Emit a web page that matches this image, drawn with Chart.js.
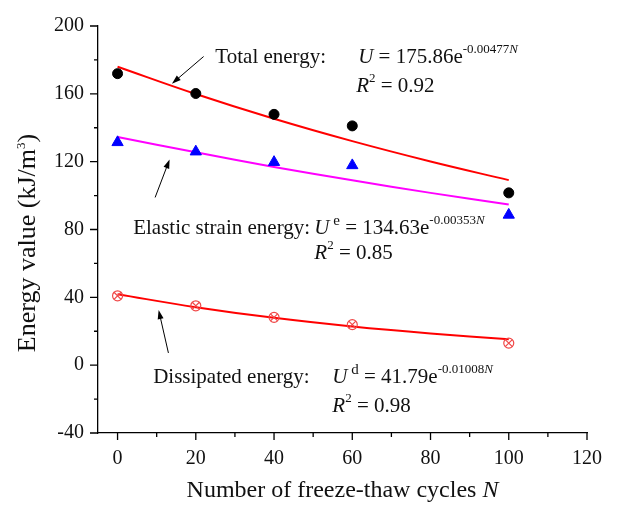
<!DOCTYPE html>
<html>
<head>
<meta charset="utf-8">
<script src="https://cdn.jsdelivr.net/npm/chart.js@4"></script>
<style>
  html, body { margin: 0; padding: 0; background: #fff; }
</style>
</head>
<body>
<canvas id="chart" width="636" height="509"></canvas>
<script>
const N_OBS = [0, 20, 40, 60, 100];
const TOTAL = [171.9, 160.2, 147.9, 141.1, 101.6];
const ELASTIC = [131.4, 125.9, 119.7, 117.8, 88.6];
const DISSIPATED = [40.9, 35.0, 28.2, 23.9, 13.0];

// fitted curves
const N_FIT = [0, 20, 40, 60, 80, 100];
const TOTAL_FIT = [176.0, 159.9, 145.3, 132.1, 120.1, 109.1];
const ELASTIC_FIT = [134.6, 125.5, 116.9, 109.0, 101.6, 94.7];
const DISSIPATED_FIT = [41.8, 34.2, 27.9, 22.8, 18.7, 15.3];

const X_TICKS = [0, 20, 40, 60, 80, 100, 120];
const Y_TICKS = [-40, 0, 40, 80, 120, 160, 200];

const SERIF = "'Liberation Serif', 'Times New Roman', serif";

const pts = (xs, ys) => xs.map((x, i) => ({ x, y: ys[i] }));

// annotation text, anchored in data units
const notes = [
  { x: 25.0, y: 178.1, parts: [{ t: 'Total energy:' }] },
  { x: 61.5, y: 178.1, parts: [{ t: 'U', it: 1 }, { t: ' = 175.86e' }, { t: '-0.00477', sup: 1 }, { t: 'N', sup: 1, it: 1 }] },
  { x: 61.0, y: 161.2, parts: [{ t: 'R', it: 1 }, { t: '2', sup: 1 }, { t: ' = 0.92' }] },
  { x: 4.0, y: 77.1, parts: [{ t: 'Elastic strain energy:' }] },
  { x: 50.3, y: 77.1, parts: [{ t: 'U', it: 1 }, { t: ' e', sup: 2 }, { t: ' = 134.63e' }, { t: '-0.00353', sup: 1 }, { t: 'N', sup: 1, it: 1 }] },
  { x: 50.3, y: 62.5, parts: [{ t: 'R', it: 1 }, { t: '2', sup: 1 }, { t: ' = 0.85' }] },
  { x: 9.1, y: -10.5, parts: [{ t: 'Dissipated energy:' }] },
  { x: 54.9, y: -10.5, parts: [{ t: 'U', it: 1 }, { t: ' d', sup: 2 }, { t: ' = 41.79e' }, { t: '-0.01008', sup: 1 }, { t: 'N', sup: 1, it: 1 }] },
  { x: 54.9, y: -27.4, parts: [{ t: 'R', it: 1 }, { t: '2', sup: 1 }, { t: ' = 0.98' }] }
];

// arrows: tail -> tip, data units
const arrows = [
  { from: [22.0, 182.0], to: [13.9, 166.0] },
  { from: [9.6, 98.9], to: [13.3, 121.3] },
  { from: [13.0, 7.2], to: [10.5, 32.5] }
];

function fontFor(p, base) {
  const size = p.sup === 1 ? 13 : p.sup === 2 ? 15 : base;
  return (p.it ? 'italic ' : '') + size + 'px ' + SERIF;
}
function richWidth(ctx, parts, base) {
  let w = 0;
  parts.forEach(p => { ctx.font = fontFor(p, base); w += ctx.measureText(p.t).width; });
  return w;
}
function drawRich(ctx, x, y, parts, base) {
  ctx.textAlign = 'left';
  ctx.textBaseline = 'alphabetic';
  parts.forEach(p => {
    ctx.font = fontFor(p, base);
    const dy = p.sup === 1 ? -10 : p.sup === 2 ? -9 : 0;
    ctx.fillText(p.t, x, y + dy);
    x += ctx.measureText(p.t).width;
  });
}

const decor = {
  id: 'decor',
  afterDraw(chart) {
    const { ctx, chartArea: a, scales: { x, y } } = chart;
    ctx.save();
    ctx.strokeStyle = '#000';
    ctx.fillStyle = '#000';
    ctx.lineWidth = 1.3;

    // major and minor tick marks, pointing outward
    ctx.beginPath();
    for (let v = -40; v <= 200; v += 20) {
      const py = y.getPixelForValue(v);
      const len = v % 40 === 0 ? 8 : 4;
      ctx.moveTo(a.left - len, py);
      ctx.lineTo(a.left, py);
    }
    for (let v = 0; v <= 120; v += 10) {
      const px = x.getPixelForValue(v);
      const len = v % 20 === 0 ? 7 : 4;
      ctx.moveTo(px, a.bottom);
      ctx.lineTo(px, a.bottom + len);
    }
    ctx.stroke();

    // arrows
    ctx.lineWidth = 1;
    arrows.forEach(ar => {
      const x0 = x.getPixelForValue(ar.from[0]), y0 = y.getPixelForValue(ar.from[1]);
      const x1 = x.getPixelForValue(ar.to[0]), y1 = y.getPixelForValue(ar.to[1]);
      const ang = Math.atan2(y1 - y0, x1 - x0);
      ctx.beginPath();
      ctx.moveTo(x0, y0);
      ctx.lineTo(x1 - 6 * Math.cos(ang), y1 - 6 * Math.sin(ang));
      ctx.stroke();
      ctx.beginPath();
      ctx.moveTo(x1, y1);
      ctx.lineTo(x1 - 9 * Math.cos(ang) + 3 * Math.sin(ang), y1 - 9 * Math.sin(ang) - 3 * Math.cos(ang));
      ctx.lineTo(x1 - 9 * Math.cos(ang) - 3 * Math.sin(ang), y1 - 9 * Math.sin(ang) + 3 * Math.cos(ang));
      ctx.closePath();
      ctx.fill();
    });

    // annotations
    ctx.fillStyle = '#111';
    notes.forEach(n => drawRich(ctx, x.getPixelForValue(n.x), y.getPixelForValue(n.y), n.parts, 21));

    // axis titles
    const xt = [{ t: 'Number of freeze-thaw cycles ' }, { t: 'N', it: 1 }];
    const xw = richWidth(ctx, xt, 24);
    drawRich(ctx, (a.left + a.right) / 2 - xw / 2, 497, xt, 24);

    const yt = [{ t: 'Energy value (kJ/m' }, { t: '3', sup: 1 }, { t: ')' }];
    const yw = richWidth(ctx, yt, 26);
    ctx.translate(35, 243);
    ctx.rotate(-Math.PI / 2);
    drawRich(ctx, -yw / 2, 0, yt, 26);
    ctx.restore();
  }
};

const tickFont = { family: SERIF, size: 20 };

new Chart(document.getElementById('chart'), {
  type: 'scatter',
  data: {
    datasets: [
      { data: pts(N_FIT, TOTAL_FIT), showLine: true, borderColor: '#ff0000', borderWidth: 2, pointRadius: 0, tension: 0.4, order: 2 },
      { data: pts(N_FIT, ELASTIC_FIT), showLine: true, borderColor: '#ff00ff', borderWidth: 2, pointRadius: 0, tension: 0.4, order: 2 },
      { data: pts(N_FIT, DISSIPATED_FIT), showLine: true, borderColor: '#ff0000', borderWidth: 2, pointRadius: 0, tension: 0.4, order: 2 },
      { data: pts(N_OBS, TOTAL), pointStyle: 'circle', pointRadius: 5, backgroundColor: '#000', borderColor: '#000', order: 0 },
      { data: pts(N_OBS, ELASTIC), pointStyle: 'triangle', pointRadius: 6.5, backgroundColor: '#0000ff', borderColor: '#0000ff', order: 0 },
      { data: pts(N_OBS, DISSIPATED), pointStyle: 'circle', pointRadius: 5, backgroundColor: 'rgba(0,0,0,0)', borderColor: '#f04848', borderWidth: 1.2, order: 0 },
      { data: pts(N_OBS, DISSIPATED), pointStyle: 'crossRot', pointRadius: 5, borderColor: '#f04848', borderWidth: 1.2, order: 0 }
    ]
  },
  options: {
    responsive: false,
    animation: false,
    layout: { padding: { top: 22, right: 49, left: 0, bottom: 0 } },
    plugins: { legend: { display: false }, tooltip: { enabled: false } },
    scales: {
      x: {
        type: 'linear',
        min: -5,
        max: 120,
        afterBuildTicks: s => { s.ticks = X_TICKS.map(v => ({ value: v })); },
        afterFit: s => { s.height = 76; },
        grid: { drawOnChartArea: false, drawTicks: false },
        border: { color: '#000', width: 1.3 },
        ticks: { font: tickFont, color: '#111', padding: 14, maxRotation: 0 }
      },
      y: {
        type: 'linear',
        min: -40,
        max: 200,
        afterBuildTicks: s => { s.ticks = Y_TICKS.map(v => ({ value: v })); },
        afterFit: s => { s.width = 98; },
        grid: { drawOnChartArea: false, drawTicks: false },
        border: { color: '#000', width: 1.3 },
        ticks: { font: tickFont, color: '#111', padding: 14 }
      }
    }
  },
  plugins: [decor]
});
</script>
</body>
</html>
